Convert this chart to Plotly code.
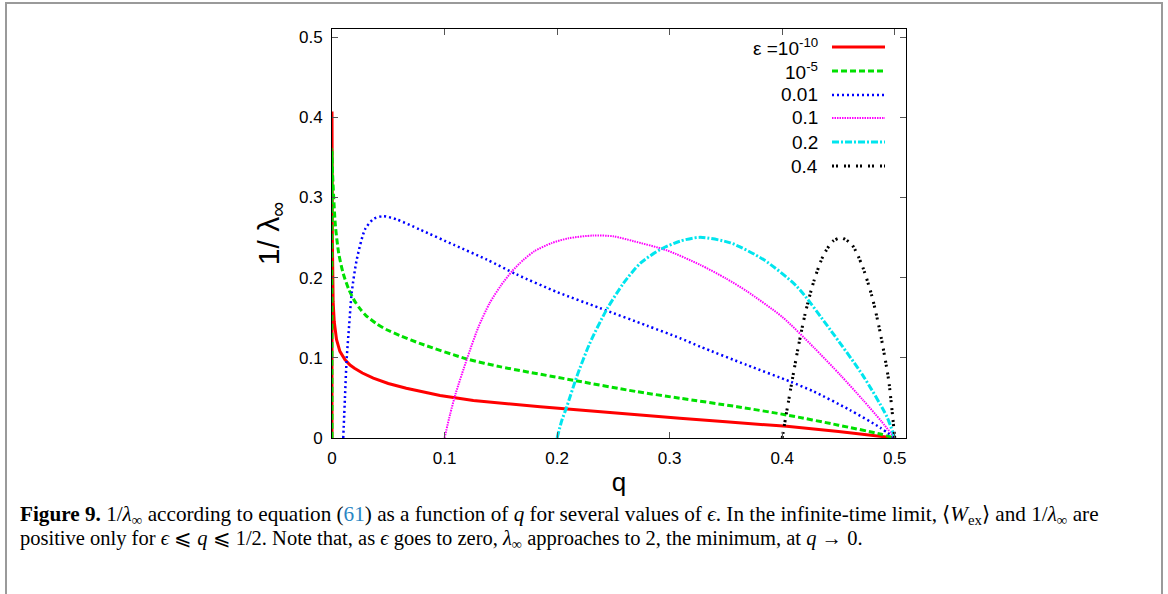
import plotly.graph_objects as go

# ---------------- data ----------------
red_q = [0, 0.00001, 0.0003, 0.001, 0.002, 0.004, 0.007, 0.0116, 0.016, 0.02, 0.027, 0.0367,
         0.05, 0.066, 0.08, 0.096, 0.1256, 0.155, 0.185, 0.22, 0.26, 0.309, 0.35, 0.404, 0.45, 0.5]
red_v = [0, 0.407, 0.25, 0.17, 0.145, 0.123, 0.108, 0.0975, 0.091, 0.087, 0.081, 0.0746,
         0.068, 0.062, 0.0575, 0.053, 0.0467, 0.0425, 0.039, 0.035, 0.030, 0.0246, 0.0203,
         0.0145, 0.0082, 0]

green_q = [0, 0.00001, 0.0005, 0.0015, 0.003, 0.006, 0.01, 0.015, 0.02, 0.025, 0.03, 0.04,
           0.0486, 0.06, 0.078, 0.12, 0.149, 0.2145, 0.27, 0.309, 0.36, 0.404, 0.45, 0.487, 0.5]
green_v = [0, 0.36, 0.33, 0.30, 0.265, 0.23, 0.205, 0.185, 0.171, 0.161, 0.153, 0.142,
           0.135, 0.128, 0.118, 0.0985, 0.089, 0.072, 0.058, 0.0496, 0.039, 0.0287, 0.016,
           0.005, 0]

blue_q = [0.01, 0.0115, 0.013, 0.0152, 0.0175, 0.022, 0.0293, 0.0367, 0.0456, 0.0575, 0.078,
          0.108, 0.1375, 0.164, 0.2, 0.238, 0.28, 0.309, 0.327, 0.3686, 0.407, 0.428, 0.46,
          0.487, 0.5]
blue_v = [0, 0.05, 0.0975, 0.14, 0.181, 0.2225, 0.26, 0.273, 0.2766, 0.2725, 0.26,
          0.241, 0.2225, 0.204, 0.182, 0.162, 0.14, 0.1246, 0.114, 0.091, 0.0704, 0.058,
          0.035, 0.013, 0]

magenta_q = [0.1, 0.105, 0.11, 0.12, 0.13, 0.14, 0.15, 0.16, 0.17, 0.18, 0.195, 0.21, 0.232,
             0.25, 0.268, 0.2975, 0.327, 0.35, 0.3686, 0.4, 0.428, 0.452, 0.472, 0.488, 0.5]
magenta_v = [0, 0.03, 0.056, 0.099, 0.138, 0.168, 0.19, 0.208, 0.222, 0.233, 0.243, 0.249,
             0.2525, 0.2515, 0.2454, 0.234, 0.216, 0.199, 0.183, 0.151, 0.113, 0.078, 0.047,
             0.021, 0]

cyan_q = [0.2, 0.204, 0.2086, 0.2175, 0.229, 0.244, 0.259, 0.274, 0.2916, 0.309, 0.327, 0.354,
          0.3834, 0.413, 0.4427, 0.4723, 0.493, 0.5]
cyan_v = [0, 0.021, 0.039, 0.0766, 0.118, 0.16, 0.193, 0.218, 0.235, 0.2454, 0.2502, 0.2433,
          0.2225, 0.189, 0.135, 0.0766, 0.0266, 0]

black_q = [0.4, 0.404, 0.409, 0.4145, 0.4204, 0.428, 0.4367, 0.4456, 0.453, 0.462, 0.4708,
           0.4797, 0.487, 0.4945, 0.5]
black_v = [0, 0.033, 0.073, 0.115, 0.155, 0.195, 0.228, 0.246, 0.2496, 0.241, 0.216,
           0.177, 0.132, 0.073, 0]

legend_labels = ["ε =10<sup>-10</sup>", "10<sup>-5</sup>", "0.01", "0.1", "0.2", "0.4"]
tick_vals = [0, 0.1, 0.2, 0.3, 0.4, 0.5]
tick_text = ["0", "0.1", "0.2", "0.3", "0.4", "0.5"]

# ---------------- styles ----------------
series = [
    (red_q, red_v, "#ff0000", "solid", 3, "linear"),
    (green_q, green_v, "#00e000", "6px,3px", 3, "spline"),
    (blue_q, blue_v, "#0000ff", "2px,3px", 2.5, "spline"),
    (magenta_q, magenta_v, "#ff00ff", "1.5px,1px", 2, "spline"),
    (cyan_q, cyan_v, "#00e5ee", "7px,2px,2px,2px", 3, "spline"),
    (black_q, black_v, "#000000", "2px,2px,2px,6px", 3, "spline"),
]

W, H = 1168, 594
L, R, T, B = 332, 906, 29, 438


def px(x):
    return (x - L) / (R - L)


def py(y):
    return (B - y) / (B - T)


fig = go.Figure()
for (q, v, col, dash, w, shp), lab in zip(series, legend_labels):
    line = dict(color=col, dash=dash, width=w, shape=shp)
    if shp == "spline":
        line["smoothing"] = 0.7
    fig.add_trace(go.Scatter(x=q, y=v, mode="lines", name=lab, showlegend=False, line=line))

shapes = []
annotations = []
# custom legend (text to the left of the line sample)
row_y = [47, 71, 95, 118, 142, 166]
for (q, v, col, dash, w, shp), lab, ry in zip(series, legend_labels, row_y):
    shapes.append(dict(type="line", xref="paper", yref="paper",
                       x0=px(832), x1=px(885), y0=py(ry), y1=py(ry),
                       line=dict(color=col, dash=dash, width=w)))
    annotations.append(dict(xref="paper", yref="paper", x=px(820), y=py(ry),
                            xanchor="right", yanchor="middle", text=lab, showarrow=False,
                            font=dict(family="Liberation Sans", size=19, color="black")))

# figure frame
shapes.append(dict(type="rect", xref="paper", yref="paper",
                   x0=px(6), x1=px(1162), y0=py(3), y1=py(604),
                   line=dict(color="#9a9a9a", width=2), layer="below"))

cap1 = ("<b>Figure 9.</b> 1/<i>λ</i><sub>∞</sub> according to equation "
        "(<span style='color:#2a86c4'>61</span>) as a function of <i>q</i> for several values "
        "of <i>ϵ</i>. In the infinite-time limit, ⟨<i>W</i><sub>ex</sub>⟩ and "
        "1/<i>λ</i><sub>∞</sub> are")
cap2 = ("positive only for <i>ϵ</i> ⩽ <i>q</i> ⩽ 1/2. Note that, as <i>ϵ</i> goes to zero, "
        "<i>λ</i><sub>∞</sub> approaches to 2, the minimum, at <i>q</i> → 0.")
for txt, cy, fs in [(cap1, 515, 21.2), (cap2, 539, 20.5)]:
    annotations.append(dict(xref="paper", yref="paper", x=px(18), y=py(cy),
                            xanchor="left", yanchor="middle", text=txt, showarrow=False,
                            align="left",
                            font=dict(family="Liberation Serif", size=fs, color="black")))

axis_common = dict(showgrid=False, zeroline=False, showline=True, linecolor="black",
                   linewidth=1, mirror="ticks", ticks="inside", ticklen=6,
                   tickcolor="#555555", tickwidth=1,
                   tickfont=dict(family="Liberation Sans", size=17, color="black"),
                   tickvals=tick_vals, ticktext=tick_text)

fig.update_layout(
    width=W, height=H,
    margin=dict(l=L, r=W - R, t=T, b=H - B, pad=0),
    paper_bgcolor="white", plot_bgcolor="white",
    xaxis=dict(range=[0, 0.51], ticklabelstandoff=5,
               title=dict(text="q", standoff=5,
                          font=dict(family="Liberation Sans", size=26, color="black")),
               **axis_common),
    yaxis=dict(range=[0, 0.51], ticklabelstandoff=5,
               title=dict(text="1/ λ<sub>∞</sub>", standoff=10,
                          font=dict(family="Liberation Sans", size=30, color="black")),
               **axis_common),
    shapes=shapes, annotations=annotations,
)

fig.write_html("out.html")
